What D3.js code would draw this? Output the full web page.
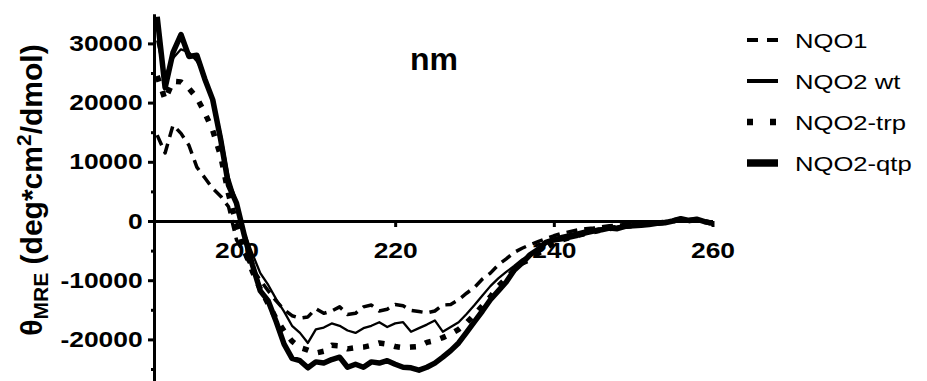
<!DOCTYPE html>
<html>
<head>
<meta charset="utf-8">
<script src="https://cdn.jsdelivr.net/npm/d3@7"></script>
<style>
  html, body { margin: 0; padding: 0; background: #fff; }
  svg { display: block; }
  text { font-family: "Liberation Sans", Arial, sans-serif; fill: #000; }
</style>
</head>
<body>
<svg id="chart" width="927" height="381"></svg>
<script>
// Wavelength grid (nm), 1 nm steps
const wavelengths = d3.range(190, 261, 1);

// Mean residue ellipticity (deg*cm^2/dmol) per wavelength
const nqo1 = [
  14500, 11500, 16200, 14800, 12800, 9100, 7300, 5500, 4200, 2400,
  -3200, -5500, -8000, -10000, -11800, -13500, -15000, -16000, -16400, -16200,
  -14800, -15600, -15200, -14500, -15800, -15600, -14500, -14200, -15200, -14900,
  -14100, -14300, -15100, -15300, -15500, -15200, -14200, -14100, -13300, -12200,
  -11200, -9800, -8800, -7400, -6400, -5300, -4600, -4000, -3500, -3000,
  -2500, -2100, -1800, -1500, -1300, -1200, -1000, -800, -700, -600,
  -500, -400, -300, -200, -100, 200, 300, 100, 300, 0, -300
];
const nqo2wt = [
  30500, 24500, 27500, 29000, 28500, 27000, 24500, 20500, 14800, 7500,
  3200, -2000, -5500, -8800, -10800, -13200, -15300, -17700, -18900, -20600,
  -18300, -18000, -17300, -17700, -18500, -18900, -18100, -17700, -17100, -17900,
  -17300, -17100, -18700, -18100, -17500, -16800, -18700, -17900, -17100, -15700,
  -14200, -12600, -11000, -9700, -8600, -7600, -6500, -5700, -4700, -3800,
  -3000, -2500, -2200, -1900, -1600, -1400, -1200, -1000, -900, -700,
  -600, -500, -300, -400, -100, 100, 300, 0, 200, -200, -400
];
const nqo2trp = [
  24500, 20500, 23600, 23500, 22400, 20800, 18300, 15300, 11000, 4500,
  -500, -5000, -8500, -11500, -14000, -16500, -18600, -20300, -21400, -21800,
  -22300, -22000, -21000, -21100, -21600, -21400, -21300, -21000, -20600, -20800,
  -21200, -21400, -21300, -21200, -20500, -20200, -19700, -19100, -18300, -17200,
  -15800, -14300, -12800, -11000, -9700, -8300, -7100, -6500, -5500, -4600,
  -3700, -3200, -2800, -2400, -2100, -1800, -1500, -1300, -1100, -900,
  -800, -600, -500, -400, -200, 0, 300, 100, 200, -100, -400
];
const nqo2qtp = [
  34500, 22500, 28500, 31500, 27800, 28000, 24000, 20500, 13800, 6000,
  3000, -2500, -7400, -11800, -13500, -17000, -20800, -23200, -23600, -24800,
  -23800, -24000, -23400, -23000, -24700, -24200, -24700, -23800, -24000, -23600,
  -24200, -24700, -24800, -25200, -24700, -24000, -23000, -21900, -20600, -18800,
  -17000, -15200, -13300, -11800, -10300, -8300, -7100, -5700, -4800, -3600,
  -3200, -3000, -2700, -2400, -2000, -1700, -1500, -1200, -1300, -900,
  -800, -700, -600, -400, -300, 0, 400, 100, 300, -100, -400
];

const seriesNames = ["NQO1", "NQO2 wt", "NQO2-trp", "NQO2-qtp"];
const seriesValues = [nqo1, nqo2wt, nqo2trp, nqo2qtp];

const xTicks = [200, 220, 240, 260];
const yTicks = [-20000, -10000, 0, 10000, 20000, 30000];
const yMinorTicks = [-25000, -15000, -5000, 5000, 15000, 25000];

// Line styles per series
const styles = [
  { width: 3.5, dash: "11,7", legendWidth: 4, legendDash: "11,9" },
  { width: 2.3, dash: null, legendWidth: 4, legendDash: null },
  { width: 5.5, dash: "6,10", legendWidth: 6.5, legendDash: "6,17" },
  { width: 5.5, dash: null, legendWidth: 7.5, legendDash: null }
];

const svg = d3.select("#chart");
const TEXT_SX = 1.2; // horizontal glyph stretch
const tickFont = '"Liberation Sans", Arial, sans-serif';

const x = d3.scaleLinear().domain([189.6, 260]).range([154, 712.5]);
const y = d3.scaleLinear().domain([-27500, 35000]).range([383.8, 13.8]);

// Y axis
const yAxis = svg.append("g")
  .attr("transform", `translate(${x(189.6)},0)`)
  .call(d3.axisLeft(y).tickValues(yTicks).tickSize(6).tickSizeOuter(0).tickFormat(d => String(d)));
yAxis.select(".domain").attr("stroke-width", 3);
yAxis.selectAll(".tick line").attr("stroke-width", 3);
yAxis.selectAll(".tick text")
  .attr("x", -9.5)
  .attr("transform", `scale(${TEXT_SX},1)`)
  .style("font-size", "22px")
  .style("font-weight", "bold")
  .style("font-family", tickFont);

const yMinor = svg.append("g")
  .attr("transform", `translate(${x(189.6)},0)`)
  .call(d3.axisLeft(y).tickValues(yMinorTicks).tickSize(3).tickSizeOuter(0).tickFormat(""));
yMinor.select(".domain").remove();
yMinor.selectAll(".tick line").attr("stroke-width", 3);

// X axis along zero
const xAxis = svg.append("g")
  .attr("transform", `translate(0,${y(0)})`)
  .call(d3.axisBottom(x).tickValues(xTicks).tickSize(6).tickSizeOuter(0).tickFormat(d => String(d)));
xAxis.select(".domain").attr("stroke-width", 3);
xAxis.selectAll(".tick line").attr("stroke-width", 3);
xAxis.selectAll(".tick text")
  .attr("y", 37)
  .attr("dy", null)
  .attr("transform", `scale(${TEXT_SX},1)`)
  .style("font-size", "22px")
  .style("font-weight", "bold")
  .style("font-family", tickFont);

// Curves, drawn over the axes and tick labels
const line = d3.line()
  .x((d, i) => x(wavelengths[i]))
  .y(d => y(d));

const curves = svg.append("g").attr("class", "curves");
seriesValues.forEach((vals, k) => {
  curves.append("path")
    .datum(vals)
    .attr("d", line)
    .attr("fill", "none")
    .attr("stroke", "#000")
    .attr("stroke-width", styles[k].width)
    .attr("stroke-linejoin", "round")
    .attr("stroke-dasharray", styles[k].dash);
});

// Axis title for x
svg.append("text")
  .attr("x", 434)
  .attr("y", 70)
  .attr("text-anchor", "middle")
  .style("font-size", "32px")
  .style("font-weight", "bold")
  .text("nm");

// Y axis title
const yTitle = svg.append("text")
  .attr("transform", "translate(42,190) rotate(-90)")
  .attr("text-anchor", "middle")
  .style("font-size", "30px")
  .style("font-weight", "bold");
yTitle.append("tspan").text("θ");
yTitle.append("tspan").attr("dy", 6).style("font-size", "21px").text("MRE");
yTitle.append("tspan").attr("dy", -6).text(" (deg*cm");
yTitle.append("tspan").attr("dy", -11).style("font-size", "21px").text("2");
yTitle.append("tspan").attr("dy", 11).text("/dmol)");

// Legend
const legend = svg.append("g").attr("class", "legend");
seriesNames.forEach((name, k) => {
  const cy = 40 + k * 41;
  legend.append("line")
    .attr("x1", 747).attr("x2", 778)
    .attr("y1", cy).attr("y2", cy)
    .attr("stroke", "#000")
    .attr("stroke-width", styles[k].legendWidth)
    .attr("stroke-dasharray", styles[k].legendDash);
  legend.append("text")
    .attr("transform", `translate(795,${cy + 7.5}) scale(1.22,1)`)
    .style("font-size", "21px")
    .text(name);
});
</script>
</body>
</html>
